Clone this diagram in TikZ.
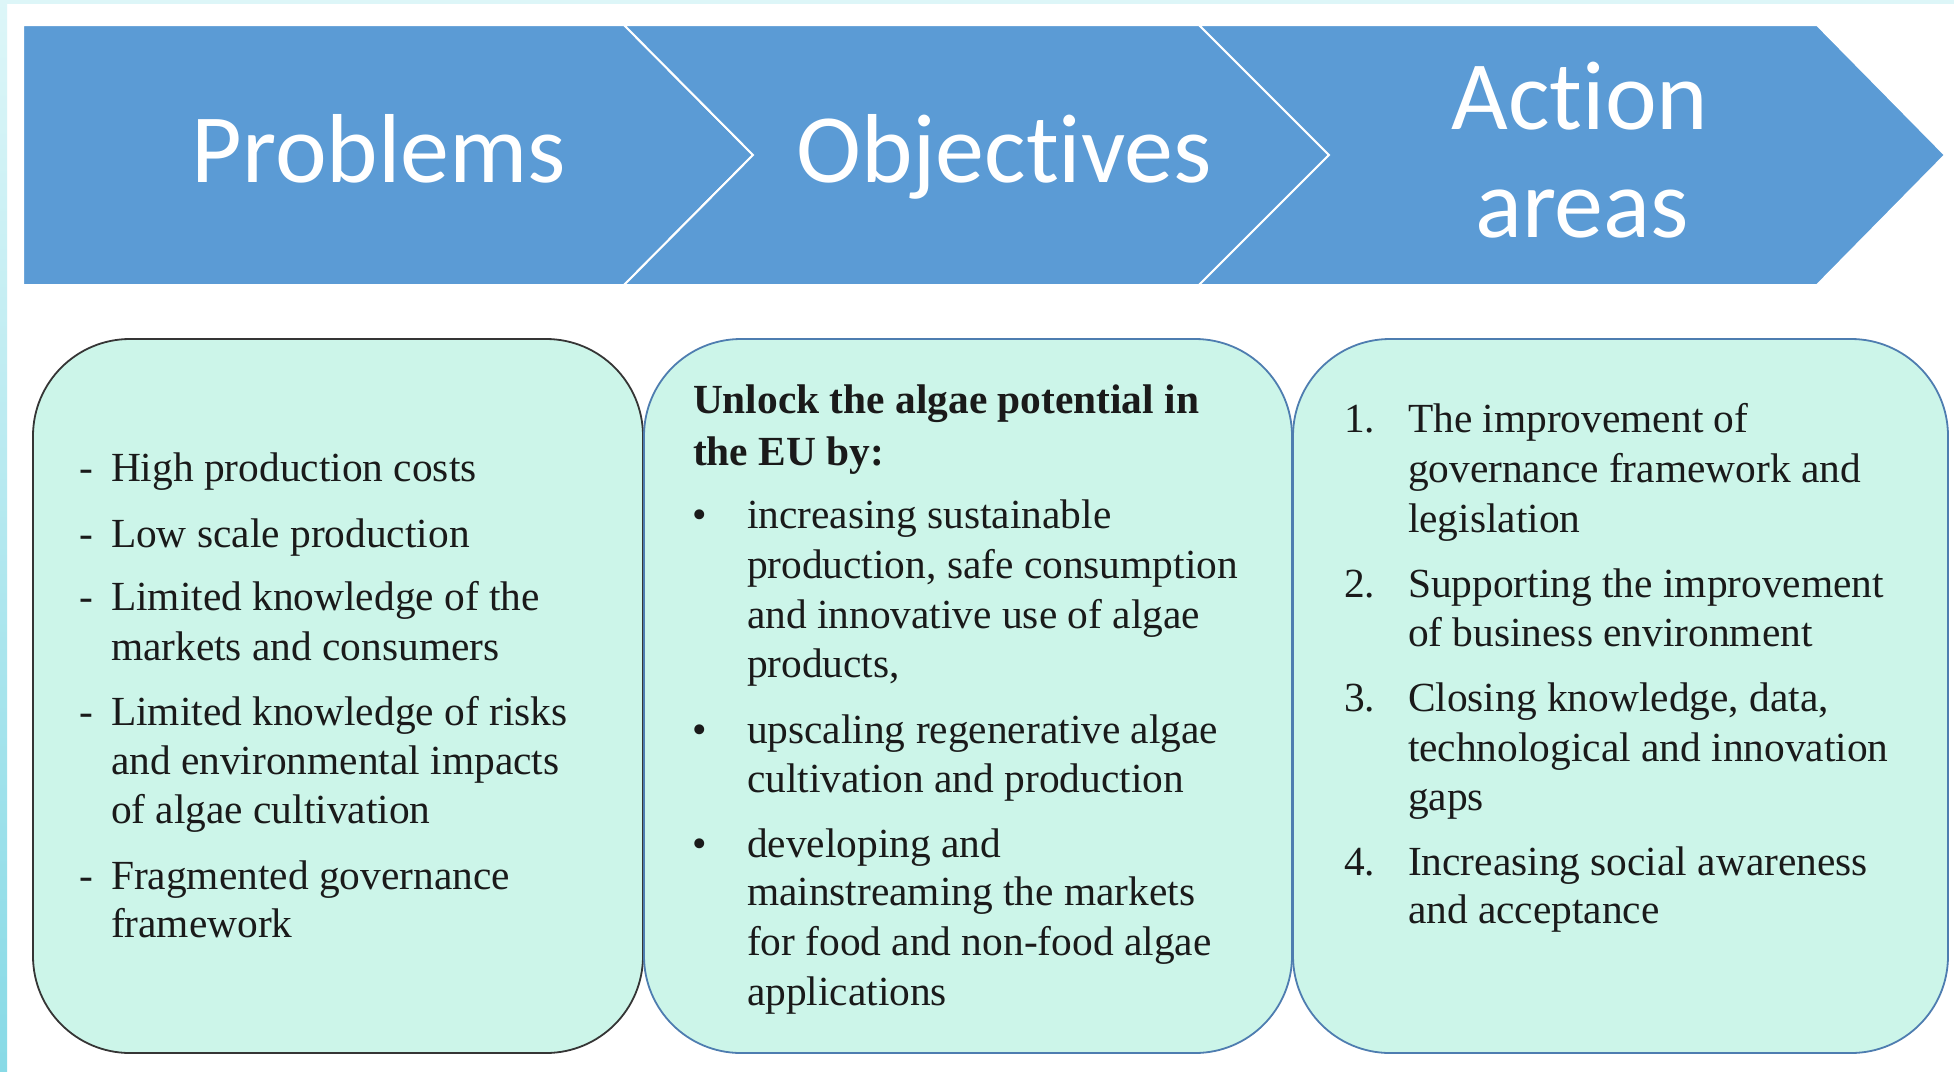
\documentclass[tikz,border=0pt]{standalone}
\usepackage{fontspec}
\setmainfont{Liberation Serif}
\newfontfamily\calibfont[Ligatures={NoCommon}]{Carlito}
\definecolor{chev}{HTML}{5B9BD5}
\definecolor{mint}{HTML}{CCF5E9}
\definecolor{bluebd}{HTML}{4E7DB0}
\definecolor{darkbd}{HTML}{353535}
\definecolor{txt}{HTML}{1A1A1A}
\definecolor{stripT}{HTML}{DDF6F8}
\definecolor{stripB}{HTML}{88DAE6}
\begin{document}
\begin{tikzpicture}[x=0.5pt,y=-0.5pt,
  chevshape/.style={fill=chev,draw=white,line width=1pt,line join=miter},
  titletext/.style={font=\calibfont\fontsize{49}{53.5}\selectfont,text=white,inner sep=0pt,anchor=base},
  card/.style={fill=mint,line width=0.9pt,rounded corners=48.5pt},
  bodyline/.style={font=\fontsize{20.7}{24.75}\selectfont,text=txt,inner sep=0pt,outer sep=0pt,anchor=base west},
  boldline/.style={bodyline,font=\bfseries\fontsize{20.7}{24.75}\selectfont}]
\useasboundingbox (0,0) rectangle (1954,1071);
\fill[white] (0,0) rectangle (1954,1071);
% screenshot edges
\fill[stripT] (0,0) rectangle (1954,4);
\shade[top color=stripT,bottom color=stripB] (0,0) rectangle (7,1071);
% chevrons
\path[chevshape] (23,25) -- (624,25) -- (753,155) -- (624,285) -- (23,285) -- cycle;
\path[chevshape] (624,25) -- (1199,25) -- (1329,155) -- (1199,285) -- (624,285) -- (753,155) -- cycle;
\path[chevshape] (1199,25) -- (1817,25) -- (1945,155) -- (1817,285) -- (1199,285) -- (1329,155) -- cycle;
\node[titletext] (tprob) at (379,182) {Problems};
\node[titletext] (tobj) at (1004,182) {Objectives};
\node[titletext] (tact1) at (1580,129) {Action};
\node[titletext] (tact2) at (1582,237) {areas};
% cards
\draw[card,draw=darkbd] (33,339) rectangle (643,1053);
\draw[card,draw=bluebd] (644,339) rectangle (1292,1053);
\draw[card,draw=bluebd] (1293,339) rectangle (1948,1053);
% problems
\node[bodyline] (pd1) at (79,481.7) {-};
\node[bodyline] (pl1) at (111,481.7) {High production costs};
\node[bodyline] (pd2) at (79,547) {-};
\node[bodyline] (pl2) at (111,547) {Low scale production};
\node[bodyline] (pd3) at (79,610) {-};
\node[bodyline] (pl3a) at (111,610) {Limited knowledge of the};
\node[bodyline] (pl3b) at (111,660.7) {markets and consumers};
\node[bodyline] (pd4) at (79,725) {-};
\node[bodyline] (pl4a) at (111,725) {Limited knowledge of risks};
\node[bodyline] (pl4b) at (111,774) {and environmental impacts};
\node[bodyline] (pl4c) at (111,823) {of algae cultivation};
\node[bodyline] (pd5) at (79,889) {-};
\node[bodyline] (pl5a) at (111,889) {Fragmented governance};
\node[bodyline] (pl5b) at (111,937) {framework};
% objectives
\node[boldline] (oh1) at (693,413) {Unlock the algae potential in};
\node[boldline] (oh2) at (693,465) {the EU by:};
\node[bodyline] (ob1) at (692,528) {•};
\node[bodyline] (o1a) at (747,528) {increasing sustainable};
\node[bodyline] (o1b) at (747,578) {production, safe consumption};
\node[bodyline] (o1c) at (747,628) {and innovative use of algae};
\node[bodyline] (o1d) at (747,677) {products,};
\node[bodyline] (ob2) at (692,743) {•};
\node[bodyline] (o2a) at (747,743) {upscaling regenerative algae};
\node[bodyline] (o2b) at (747,792) {cultivation and production};
\node[bodyline] (ob3) at (692,857) {•};
\node[bodyline] (o3a) at (747,857) {developing and};
\node[bodyline] (o3b) at (747,905) {mainstreaming the markets};
\node[bodyline] (o3c) at (747,955) {for food and non-food algae};
\node[bodyline] (o3d) at (747,1005) {applications};
% action areas
\node[bodyline] (an1) at (1344,432) {1.};
\node[bodyline] (a1a) at (1408,432) {The improvement of};
\node[bodyline] (a1b) at (1408,482) {governance framework and};
\node[bodyline] (a1c) at (1408,532) {legislation};
\node[bodyline] (an2) at (1344,597) {2.};
\node[bodyline] (a2a) at (1408,597) {Supporting the improvement};
\node[bodyline] (a2b) at (1408,646) {of business environment};
\node[bodyline] (an3) at (1344,711) {3.};
\node[bodyline] (a3a) at (1408,711) {Closing knowledge, data,};
\node[bodyline] (a3b) at (1408,761) {technological and innovation};
\node[bodyline] (a3c) at (1408,810) {gaps};
\node[bodyline] (an4) at (1344,875) {4.};
\node[bodyline] (a4a) at (1408,875) {Increasing social awareness};
\node[bodyline] (a4b) at (1408,923) {and acceptance};
\end{tikzpicture}
\end{document}
